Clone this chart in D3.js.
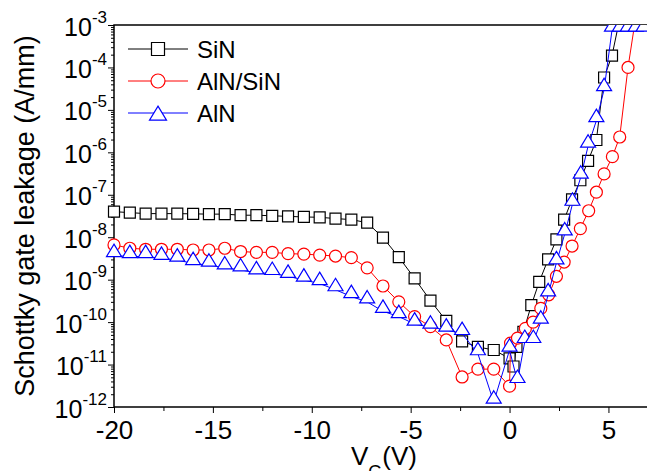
<!DOCTYPE html>
<html>
<head>
<meta charset="utf-8">
<script src="https://cdnjs.cloudflare.com/ajax/libs/d3/7.8.5/d3.min.js"></script>
<style>
body { margin: 0; background: #fff; }
svg { display: block; font-family: Arial, "Liberation Sans", sans-serif; }
</style>
</head>
<body>
<div id="chart"></div>
<script>
///////////////////////////////////////////////////////////////////////////
//////////////////////////////// Data /////////////////////////////////////
///////////////////////////////////////////////////////////////////////////

var seriesNames = ["SiN", "AlN/SiN", "AlN"];

//Gate voltage (V) and leakage (A/mm) per passivation
var sinV = [-20,-19.2,-18.4,-17.6,-16.8,-16,-15.2,-14.4,-13.6,-12.8,-12,-11.2,-10.4,-9.6,-8.8,-8,-7.2,-6.4,-5.6,-4.8,-4,-3.2,-2.4,-1.6,-0.8,
	0,0.2,0.35,0.7,1.1,1.5,1.95,2.37,2.76,3.16,3.58,3.97,4.39,4.78,5.18,5.45,5.9,6.3,6.7,7.1];
var sinI = [4.0e-8,3.8e-8,3.6e-8,3.6e-8,3.6e-8,3.55e-8,3.5e-8,3.5e-8,3.3e-8,3.3e-8,3.2e-8,3.1e-8,3.0e-8,2.95e-8,2.75e-8,2.6e-8,2.2e-8,9.8e-9,3.4e-9,1.07e-9,3.2e-10,1.07e-10,3.5e-11,2.6e-11,2.2e-11,
	1.4e-11,9e-12,2.6e-11,5.9e-11,2.5e-10,8.9e-10,3.0e-9,8.9e-9,2.6e-8,7.8e-8,2.2e-7,6.3e-7,1.95e-6,5.8e-5,1.9e-4,7.6e-4,7.6e-4,7.6e-4,7.6e-4,7.6e-4];

var alnSinV = [-20,-19.2,-18.4,-17.6,-16.8,-16,-15.2,-14.4,-13.6,-12.8,-12,-11.2,-10.4,-9.6,-8.8,-8,-7.2,-6.4,-5.6,-4.8,-4,-3.2,-2.4,-1.6,-0.8,
	0,0.05,0.4,0.8,1.19,1.58,1.98,2.37,2.76,3.16,3.58,4,4.39,4.78,5.2,5.57,5.99,6.28,6.7,7.1];
var alnSinI = [6.6e-9,5.5e-9,5.2e-9,5.2e-9,5.2e-9,5.0e-9,5.0e-9,5.5e-9,4.6e-9,4.4e-9,4.4e-9,4.1e-9,4.0e-9,3.8e-9,3.6e-9,3.3e-9,1.9e-9,7.1e-10,3.0e-10,1.35e-10,7.8e-11,3.8e-11,5.1e-12,7.8e-12,7.8e-12,
	3.1e-12,3.2e-11,4.2e-11,7.1e-11,1.0e-10,2.1e-10,4.4e-10,1.2e-9,2.6e-9,6.2e-9,1.6e-8,4.2e-8,1.15e-7,3.1e-7,7.9e-7,2.3e-6,1.0e-4,7.6e-4,7.6e-4,7.6e-4];

var alnV = [-20,-19.2,-18.4,-17.6,-16.8,-16,-15.2,-14.4,-13.6,-12.8,-12,-11.2,-10.4,-9.6,-8.8,-8,-7.2,-6.4,-5.6,-4.8,-4,-3.2,-2.4,-1.6,-0.8,
	0,0.4,0.77,1.2,1.58,1.95,2.37,2.79,3.18,3.6,3.97,4.39,4.78,5.18,5.58,5.98,6.38,6.78];
var alnI = [3.7e-9,3.5e-9,3.5e-9,3.2e-9,2.9e-9,2.4e-9,2.2e-9,1.9e-9,1.7e-9,1.45e-9,1.4e-9,1.2e-9,9.8e-10,8.1e-10,5.8e-10,4.0e-10,3.0e-10,1.8e-10,1.35e-10,9e-11,7.6e-11,6.5e-11,5.4e-11,1.8e-11,1.3e-12,
	2.2e-11,4.0e-12,3.5e-11,3.5e-11,1.0e-10,4.4e-10,2.5e-9,1.2e-8,6.0e-8,2.6e-7,1.4e-6,5.6e-6,3.0e-5,7.6e-4,7.6e-4,7.6e-4,7.6e-4,7.6e-4];

//Axis ticks
var xMajor = [-20, -15, -10, -5, 0, 5],
	xMinor = [-17.5, -12.5, -7.5, -2.5, 2.5],
	yDecades = [-12, -11, -10, -9, -8, -7, -6, -5, -4, -3];

//Current at which the supply hit compliance
var compliance = 7.6e-4;

///////////////////////////////////////////////////////////////////////////
/////////////////////////////// Set up ////////////////////////////////////
///////////////////////////////////////////////////////////////////////////

var width = 647, height = 471,
	plot = {left: 114, right: 648, top: 25, bottom: 407};

var svg = d3.select("#chart").append("svg")
	.attr("width", width)
	.attr("height", height);

var x = d3.scaleLinear().domain([-20, 7]).range([plot.left, plot.right]);
var y = d3.scaleLog().domain([1e-12, 1e-3]).range([plot.bottom, plot.top]);

svg.append("clipPath").attr("id", "plotClip")
	.append("rect")
	.attr("x", plot.left - 14)
	.attr("y", plot.top)
	.attr("width", plot.right - plot.left + 28)
	.attr("height", plot.bottom - plot.top);

//Marker shapes
var shapes = {
	square: function(s) { return "M" + (-s/2) + "," + (-s/2) + "h" + s + "v" + s + "h" + (-s) + "Z"; },
	circle: function(s) { var r = s/2; return "M" + (-r) + ",0a" + r + "," + r + " 0 1,0 " + (2*r) + ",0a" + r + "," + r + " 0 1,0 " + (-2*r) + ",0Z"; },
	//Triangle sits with its base on the point
	triangle: function(s) { return "M0," + (-s*0.76) + "L" + (s/2) + "," + (s*0.07) + "L" + (-s/2) + "," + (s*0.07) + "Z"; }
};

var series = [
	{name: seriesNames[0], v: sinV, i: sinI, color: "#000", shape: "square", size: 11, capMarks: false},
	{name: seriesNames[1], v: alnSinV, i: alnSinI, color: "#ff0000", shape: "circle", size: 12, capMarks: false},
	{name: seriesNames[2], v: alnV, i: alnI, color: "#0000ff", shape: "triangle", size: 15, capMarks: true}
];

///////////////////////////////////////////////////////////////////////////
/////////////////////////////// Axes //////////////////////////////////////
///////////////////////////////////////////////////////////////////////////

var xAxis = svg.append("g")
	.attr("transform", "translate(0," + plot.bottom + ")")
	.call(d3.axisBottom(x).tickValues(xMajor).tickSize(6).tickSizeOuter(0).tickPadding(8)
		.tickFormat(function(d) { return String(d); }));
xAxis.select(".domain").remove();
xAxis.selectAll("text").style("font-size", "26px").attr("fill", "#000");

svg.append("g")
	.attr("transform", "translate(0," + plot.bottom + ")")
	.call(d3.axisBottom(x).tickValues(xMinor).tickSize(4).tickFormat(""))
	.select(".domain").remove();

var yAxis = svg.append("g")
	.attr("transform", "translate(" + plot.left + ",0)")
	.call(d3.axisLeft(y).tickValues(yDecades.map(function(d) { return Math.pow(10, d); }))
		.tickSize(6).tickFormat(""));
yAxis.select(".domain").remove();

//Power-of-ten labels
yAxis.selectAll(".tick").append("text")
	.attr("x", -7)
	.attr("y", 10)
	.attr("fill", "#000")
	.style("text-anchor", "end")
	.each(function(d) {
		var t = d3.select(this);
		t.append("tspan").style("font-size", "25px").text("10");
		t.append("tspan").style("font-size", "17px").attr("dy", -13).text(Math.round(Math.log10(d)));
	});

//Minor log ticks between decades
svg.append("g")
	.attr("transform", "translate(" + plot.left + ",0)")
	.call(d3.axisLeft(y).tickValues(y.ticks().filter(function(d) {
			var e = Math.log10(d); return Math.abs(e - Math.round(e)) > 1e-6;
		})).tickSize(3).tickFormat(""))
	.select(".domain").remove();

//Frame: left, bottom and top lines
svg.append("path")
	.attr("d", "M" + plot.right + "," + plot.top + "H" + plot.left + "V" + plot.bottom + "H" + plot.right)
	.attr("fill", "none")
	.attr("stroke", "#000")
	.attr("stroke-width", 1.5);

//Axis titles
var xTitle = svg.append("text")
	.attr("x", 351)
	.attr("y", 465)
	.attr("fill", "#000")
	.style("font-size", "26px");
xTitle.append("tspan").text("V");
xTitle.append("tspan").attr("dy", 13).style("font-size", "18px").text("G");
xTitle.append("tspan").attr("dy", -13).text("(V)");

svg.append("text")
	.attr("transform", "translate(34," + ((plot.top + plot.bottom) / 2) + ") rotate(-90)")
	.attr("fill", "#000")
	.style("text-anchor", "middle")
	.style("font-size", "27px")
	.text("Schottky gate leakage (A/mm)");

///////////////////////////////////////////////////////////////////////////
//////////////////////////// Curves & markers /////////////////////////////
///////////////////////////////////////////////////////////////////////////

var line = d3.line()
	.x(function(d) { return x(d[0]); })
	.y(function(d) { return y(d[1]); });

var plotArea = svg.append("g").attr("clip-path", "url(#plotClip)");

series.forEach(function(s) {
	var pts = s.v.map(function(v, k) { return [v, s.i[k]]; });
	var g = plotArea.append("g");

	g.append("path")
		.attr("d", line(pts))
		.attr("fill", "none")
		.attr("stroke", s.color)
		.attr("stroke-width", 1);

	g.selectAll(".mark")
		.data(pts.filter(function(d) { return s.capMarks || d[1] < compliance; }))
		.enter().append("path")
		.attr("class", "mark")
		.attr("transform", function(d) { return "translate(" + x(d[0]) + "," + y(d[1]) + ")"; })
		.attr("d", shapes[s.shape](s.size))
		.attr("fill", "#fff")
		.attr("stroke", s.color)
		.attr("stroke-width", 1.2);
});

///////////////////////////////////////////////////////////////////////////
/////////////////////////////// Legend ////////////////////////////////////
///////////////////////////////////////////////////////////////////////////

var legend = svg.selectAll(".legendRow")
	.data(series)
	.enter().append("g")
	.attr("class", "legendRow")
	.attr("transform", function(d, i) { return "translate(128," + (49 + i * 32) + ")"; });

legend.append("line")
	.attr("x1", 0).attr("x2", 60)
	.attr("stroke", function(d) { return d.color; })
	.attr("stroke-width", 1);

legend.append("path")
	.attr("transform", function(d) { return "translate(30," + (d.shape === "triangle" ? 6 : 0) + ")"; })
	.attr("d", function(d) { return shapes[d.shape](d.size + 2); })
	.attr("fill", "#fff")
	.attr("stroke", function(d) { return d.color; })
	.attr("stroke-width", 1.2);

legend.append("text")
	.attr("x", 69)
	.attr("y", 9)
	.attr("fill", "#000")
	.style("font-size", "24px")
	.text(function(d) { return d.name; });
</script>
</body>
</html>
